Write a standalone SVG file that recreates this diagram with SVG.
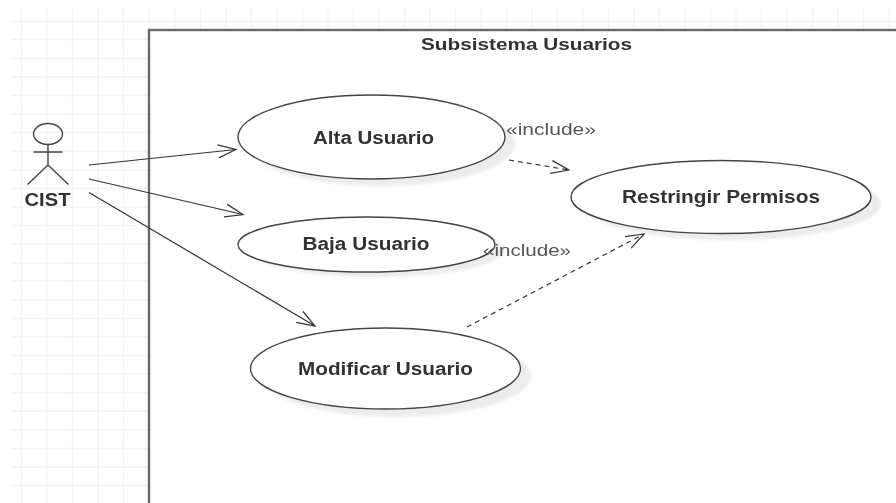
<svg xmlns="http://www.w3.org/2000/svg" width="896" height="503" viewBox="0 0 896 503">
<style>
.grid{stroke:#f4f4f4;stroke-width:1.3;fill:none}
.uc{fill:#fff;stroke:#444;stroke-width:1.4}
.sh{fill:#ececec;filter:url(#b2)}
.t{font-family:"Liberation Sans",Arial,sans-serif;font-weight:bold;font-size:17.5px;fill:#333;text-anchor:middle}
.inc{font-family:"Liberation Sans",Arial,sans-serif;font-size:17px;fill:#555}
.c{fill:none;stroke:#333;stroke-width:1.2}
.d{stroke-dasharray:5 4}
.actor{fill:none;stroke:#444;stroke-width:1.4}
</style>
<defs>
<filter id="b2" x="-10%" y="-20%" width="120%" height="140%"><feGaussianBlur stdDeviation="1.5"/></filter>
<filter id="soft" filterUnits="userSpaceOnUse" x="0" y="0" width="896" height="503"><feGaussianBlur stdDeviation="0.45"/></filter>
<marker id="open" markerUnits="userSpaceOnUse" markerWidth="22" markerHeight="18" refX="18" refY="8" orient="auto" viewBox="0 0 22 16"><path d="M0 1.5L18 8L0 14.5" fill="none" stroke="#333" stroke-width="1.2"/></marker>
</defs>
<rect width="896" height="503" fill="#fff"/>
<g id="grid" class="grid">
<path d="M21.5 9V503M47 9V503M72.5 9V503M98 9V503M123.5 9V503M149 9V30M175 9V30M200.500 9V30M226 9V30M251.500 9V30M277 9V30M302.500 9V30M328 9V30M353.500 9V30M379 9V30M404.500 9V30M430 9V30M455.500 9V30M481 9V30M506.500 9V30M532 9V30M557.500 9V30M583 9V30M608.500 9V30M634 9V30M659.500 9V30M685 9V30M710.500 9V30M736 9V30M761.500 9V30M787 9V30M812.500 9V30M838 9V30M863.500 9V30M889 9V30"/>
<path d="M11 21.500H896M11 39.500H149M11 58.500H149M11 77H149M11 95.500H149M11 114H149M11 132.500H149M11 151H149M11 170H149M11 188.500H149M11 207H149M11 225.500H149M11 244H149M11 263H149M11 281H149M11 300H149M11 318.500H149M11 337H149M11 355.500H149M11 374H149M11 393H149M11 411H149M11 430H149M11 448.500H149M11 467H149M11 485.500H149"/>
</g>
<g filter="url(#soft)">
<g id="subsistema">
<rect x="149" y="30" width="760" height="490" fill="#fff" stroke="#6a6a6a" stroke-width="2.4"/>
<text class="t" x="526.500" y="50" style="font-size:16.5px" textLength="211" lengthAdjust="spacingAndGlyphs">Subsistema Usuarios</text>
</g>
<g id="cist">
<ellipse cx="48" cy="134" rx="14.500" ry="10.500" class="actor"/>
<path class="actor" d="M48 144.500V165M33.500 152H62.500M48 165L27.500 184.500M48 165L68.500 184.500"/>
<text class="t" x="47.500" y="206" textLength="46" lengthAdjust="spacingAndGlyphs">CIST</text>
</g>
<g id="alta-usuario">
<ellipse class="sh" cx="381" cy="144" rx="134" ry="42"/>
<ellipse class="uc" cx="371.500" cy="137" rx="133.500" ry="42"/>
<text class="t" x="373.500" y="144" textLength="121" lengthAdjust="spacingAndGlyphs">Alta Usuario</text>
</g>
<g id="baja-usuario">
<ellipse class="sh" cx="376" cy="250" rx="128" ry="27"/>
<ellipse class="uc" cx="366.500" cy="244.500" rx="128.500" ry="27.500"/>
<text class="t" x="366" y="250" textLength="127" lengthAdjust="spacingAndGlyphs">Baja Usuario</text>
</g>
<g id="modificar-usuario">
<ellipse class="sh" cx="396" cy="376" rx="135" ry="41"/>
<ellipse class="uc" cx="385.500" cy="368.500" rx="135" ry="40.500"/>
<text class="t" x="385.500" y="375" textLength="175" lengthAdjust="spacingAndGlyphs">Modificar Usuario</text>
</g>
<g id="restringir-permisos">
<ellipse class="sh" cx="731" cy="204" rx="150" ry="36"/>
<ellipse class="uc" cx="721" cy="197" rx="150" ry="36.500"/>
<text class="t" x="721" y="203" textLength="198" lengthAdjust="spacingAndGlyphs">Restringir Permisos</text>
</g>
<g id="connectors">
<path class="c" d="M89 165L236 149.500" marker-end="url(#open)"/>
<path class="c" d="M89 179L243 214.500" marker-end="url(#open)"/>
<path class="c" d="M89 192.500L315 326" marker-end="url(#open)"/>
<path class="c d" d="M509 160L569 170" marker-end="url(#open)"/>
<path class="c d" d="M467 327L644 234" marker-end="url(#open)"/>
<text class="inc" x="506" y="135" textLength="90" lengthAdjust="spacingAndGlyphs">«include»</text>
<text class="inc" x="483" y="256" textLength="88" lengthAdjust="spacingAndGlyphs">«include»</text>
</g>
</g>
</svg>
